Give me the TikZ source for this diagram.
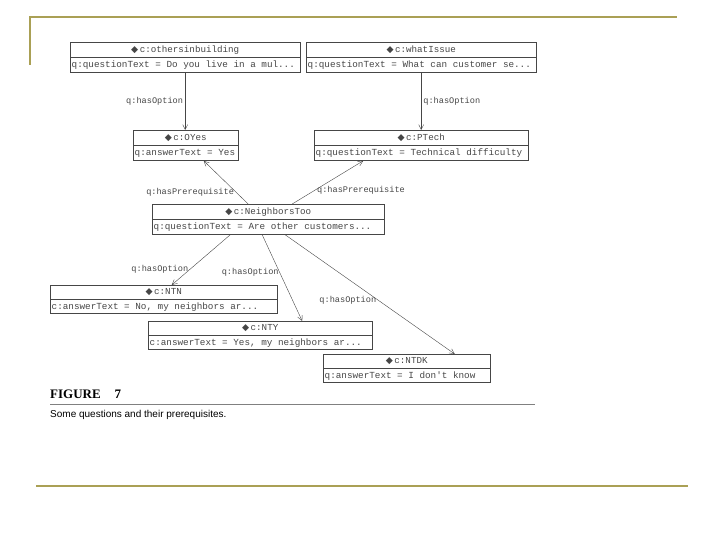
\documentclass[tikz,border=0pt]{standalone}
\usepackage{fontspec}
\setmainfont{Liberation Serif}
\setsansfont{Liberation Sans}
\setmonofont{Liberation Mono}
\newfontfamily\symfont{DejaVu Sans}
\usetikzlibrary{arrows.meta, positioning}

\definecolor{slideolive}{RGB}{170,160,85}
\definecolor{scangray}{RGB}{70,70,70}
\newcommand{\dia}{{\symfont ◆}\,}
\newcommand{\widespaces}{\spaceskip=0.6em\relax}

\tikzset{
	clshead/.style={draw=scangray, text=scangray, minimum height=15pt, inner sep=1pt, anchor=north west, font=\ttfamily\fontsize{9.2}{10}\selectfont},
	clsattr/.style={draw=scangray, text=scangray, minimum height=15pt, inner xsep=1.5pt, inner ysep=1pt, anchor=north west, align=left, font=\ttfamily\fontsize{9.3}{10}\selectfont, execute at begin node=\widespaces},
	rel/.style={draw=scangray, -{Straight Barb[length=5pt, width=5pt]}},
	rellabel/.style={text=scangray, inner sep=2pt, font=\ttfamily\fontsize{8.6}{9}\selectfont}
}

\begin{document}
\begin{tikzpicture}[x=1pt, y=-1pt]
	\useasboundingbox (0, 0) rectangle (720, 540);
	% Slide frame:
	\draw[slideolive, line width=2pt] (30, 65) -- (30, 17) -- (677, 17);
	\draw[slideolive, line width=2pt] (36, 486) -- (688, 486);
	% Classes:
	\node[clshead, minimum width=230pt] (others) at (70, 42) {\dia c:othersinbuilding};
	\node[clsattr, text width=227pt] (othersattr) at (others.south west) {q:questionText = Do you live in a mul...};
	\node[clshead, minimum width=230pt] (issue) at (306, 42) {\dia c:whatIssue};
	\node[clsattr, text width=227pt] (issueattr) at (issue.south west) {q:questionText = What can customer se...};
	\node[clshead, minimum width=105pt] (oyes) at (133, 130) {\dia c:OYes};
	\node[clsattr, text width=102pt] (oyesattr) at (oyes.south west) {q:answerText = Yes};
	\node[clshead, minimum width=214pt] (ptech) at (314, 130) {\dia c:PTech};
	\node[clsattr, text width=211pt] (ptechattr) at (ptech.south west) {q:questionText = Technical difficulty};
	\node[clshead, minimum width=232pt] (ntoo) at (152, 204) {\dia c:NeighborsToo};
	\node[clsattr, text width=229pt] (ntooattr) at (ntoo.south west) {q:questionText = Are other customers...};
	\node[clshead, minimum width=227pt, minimum height=14pt] (ntn) at (50, 285) {\dia c:NTN};
	\node[clsattr, text width=224pt, minimum height=14pt] (ntnattr) at (ntn.south west) {c:answerText = No, my neighbors ar...};
	\node[clshead, minimum width=224pt, minimum height=14pt] (nty) at (148, 321) {\dia c:NTY};
	\node[clsattr, text width=221pt, minimum height=14pt] (ntyattr) at (nty.south west) {c:answerText = Yes, my neighbors ar...};
	\node[clshead, minimum width=167pt, minimum height=14pt] (ntdk) at (323, 354) {\dia c:NTDK};
	\node[clsattr, text width=164pt, minimum height=14pt] (ntdkattr) at (ntdk.south west) {q:answerText = I don't know};
	% Relations:
	\draw[rel] (othersattr.south) -- (othersattr.south |- oyes.north) node[rellabel, midway, left] {q:hasOption};
	\draw[rel] (issueattr.south) -- (issueattr.south |- ptech.north) node[rellabel, midway, right] {q:hasOption};
	\draw[rel] ([xshift=-20pt]ntoo.north) -- ([xshift=18pt]oyesattr.south) node[rellabel, pos=0.27, left] {q:hasPrerequisite};
	\draw[rel] ([xshift=24pt]ntoo.north) -- ([xshift=-58pt]ptechattr.south) node[rellabel, pos=0.32, right] {q:hasPrerequisite};
	\draw[rel] ([xshift=-38pt]ntooattr.south) -- ([xshift=8pt]ntn.north) node[rellabel, pos=0.68, left] {q:hasOption};
	\draw[rel] ([xshift=-6pt]ntooattr.south) -- ([xshift=42pt]nty.north) node[rellabel, pos=0.44, left, inner sep=1pt] {q:hasOption};
	\draw[rel] ([xshift=17pt]ntooattr.south) -- ([xshift=48pt]ntdk.north) node[rellabel, pos=0.55, left] {q:hasOption};
	% Caption:
	\node[anchor=west, inner sep=0pt, font=\bfseries\fontsize{13}{14}\selectfont] (figtitle) at (50, 394) {FIGURE\hspace{14pt}7};
	\draw[gray, line width=1pt] (50, 404) -- (535, 404);
	\node[anchor=west, inner sep=0pt, font=\sffamily\fontsize{10}{12}\selectfont] (figcaption) at (50, 415) {Some questions and their prerequisites.};
\end{tikzpicture}
\end{document}
